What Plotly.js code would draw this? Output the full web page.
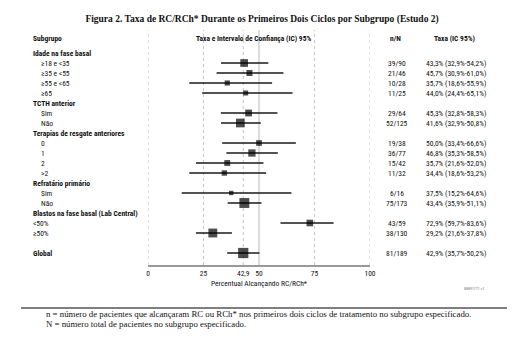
<!DOCTYPE html>
<html>
<head>
<meta charset="utf-8">
<script src="https://cdn.plot.ly/plotly-3.0.1.min.js"></script>
<style>html,body{margin:0;padding:0;background:#fff;}#chart{width:522px;height:341px;}</style>
</head>
<body>
<div id="chart"></div>
<script>
// ---- data ----
const rowLabels = ["Idade na fase basal","≥18 e <35","≥35 e <55","≥55 e <65","≥65",
  "TCTH anterior","Sim","Não",
  "Terapias de resgate anteriores","0","1","2",">2",
  "Refratário primário","Sim","Não",
  "Blastos na fase basal (Lab Central)","<50%","≥50%","","Global"];
const rate = [null,43.3,45.7,35.7,44.0, null,45.3,41.6, null,50.0,46.8,35.7,34.4, null,37.5,43.4, null,72.9,29.2, null,42.9];
const ciLow = [null,32.9,30.9,18.6,24.4, null,32.8,32.9, null,33.4,35.3,21.6,18.6, null,15.2,35.9, null,59.7,21.6, null,35.7];
const ciHigh = [null,54.2,61.0,55.9,65.1, null,58.3,50.8, null,66.6,58.5,52.0,53.2, null,64.6,51.1, null,83.6,37.8, null,50.2];
const nResp = [null,39,21,10,11, null,29,52, null,19,36,15,11, null,6,75, null,43,38, null,81];
const nTot = [null,90,46,28,25, null,64,125, null,38,77,42,32, null,16,173, null,59,130, null,189];
const tickVals = [0,25,42.9,50,75,100];
const tickText = ["0","25","42,9","50","75","100"];

// ---- geometry helpers (pixels -> paper) ----
const W = 522, H = 341, L = 148, R = 370, T = 30, B = 265;
const px = p => (p - L) / (R - L);
const py = p => (B - p) / (B - T);
const narrow = '"Roboto Condensed", "DejaVu Sans Condensed", "Arial Narrow", sans-serif';
const serif = '"Liberation Serif", "Times New Roman", serif';
const fmt = v => v.toFixed(1).replace('.', ',');
const FS = 7.5;

const idx = [], xs = [], ep = [], em = [], sizes = [];
rate.forEach((r, i) => {
  if (r === null) return;
  idx.push(i); xs.push(r);
  ep.push(ciHigh[i] - r); em.push(r - ciLow[i]);
  sizes.push(2 + Math.sqrt(nTot[i]) * 0.6);
});

const trace = {
  type: 'scatter', mode: 'markers', x: xs, y: idx,
  marker: {symbol: 'square', color: '#000', size: sizes, line: {width: 0}},
  error_x: {type: 'data', symmetric: false, array: ep, arrayminus: em, width: 0, thickness: 1.3, color: '#1a1a1a'},
  hoverinfo: 'skip', showlegend: false, cliponaxis: false
};

const ann = [];
const txt = (text, x, y, opts) => Object.assign({text, x, y, xref: 'paper', yref: 'y', showarrow: false,
  xanchor: 'left', yanchor: 'middle', font: {family: narrow, size: FS, color: '#111'}}, opts || {});

// headers
const hy = py(38);
ann.push(txt('<b>Subgrupo</b>', px(31), hy, {yref: 'paper'}));
ann.push(txt('<b>Taxa e Intervalo de Confiança (IC) 95%</b>', px(253), hy, {yref: 'paper', xanchor: 'center'}));
ann.push(txt('<b>n/N</b>', px(395), hy, {yref: 'paper', xanchor: 'center'}));
ann.push(txt('<b>Taxa (IC 95%)</b>', px(454), hy, {yref: 'paper', xanchor: 'center'}));

rowLabels.forEach((lab, i) => {
  if (!lab) return;
  const header = rate[i] === null || lab === 'Global';
  const noIndent = header || i === 17 || i === 18;
  ann.push(txt(header ? '<b>' + lab + '</b>' : lab, px(noIndent ? 31 : 39), i));
  if (rate[i] !== null) {
    ann.push(txt(nResp[i] + '/' + nTot[i], px(397), i, {xanchor: 'center'}));
    ann.push(txt(fmt(rate[i]) + '% (' + fmt(ciLow[i]) + '%-' + fmt(ciHigh[i]) + '%)', px(424), i));
  }
});

// axis title
ann.push(txt('Percentual Alcançando RC/RCh*', 0.5, py(283), {yref: 'paper', xanchor: 'center'}));
// code
ann.push(txt('88891771 v1', px(462), py(288), {yref: 'paper', font: {family: narrow, size: 4, color: '#777'}}));
// footnotes
const fnFont = {family: serif, size: 8.8, color: '#111'};
ann.push(txt('n = número de pacientes que alcançaram RC ou RCh* nos primeiros dois ciclos de tratamento no subgrupo especificado.', px(44), py(313.5), {yref: 'paper', font: fnFont}));
ann.push(txt('N = número total de pacientes no subgrupo especificado.', px(44), py(324), {yref: 'paper', font: fnFont}));

const shapes = [];
tickVals.forEach(v => {
  const solid = v === 50;
  shapes.push({type: 'line', xref: 'x', yref: 'paper', x0: v, x1: v, y0: 0, y1: 1, layer: 'below',
    line: {color: solid ? '#cfcfcf' : '#c4c4c4', width: solid ? 1.5 : 1, dash: solid ? 'solid' : 'dot'}});
});
shapes.push({type: 'line', xref: 'paper', yref: 'paper', x0: px(21), x1: px(507), y0: py(308), y1: py(308),
  line: {color: '#000', width: 1}});

const layout = {
  width: W, height: H,
  margin: {l: L, r: W - R, t: T, b: H - B, pad: 0},
  paper_bgcolor: '#fff', plot_bgcolor: '#fff',
  title: {text: '<b>Figura 2. Taxa de RC/RCh* Durante os Primeiros Dois Ciclos por Subgrupo (Estudo 2)</b>',
    font: {family: serif, size: 9.5, color: '#111'}, x: 0.502, xanchor: 'center', y: 1 - 19 / H, yanchor: 'middle', xref: 'container', yref: 'container'},
  xaxis: {range: [0, 100], tickvals: tickVals, ticktext: tickText, showgrid: false, zeroline: false,
    showline: true, linecolor: '#999', linewidth: 1.5, ticks: '', ticklen: 0,
    tickfont: {family: narrow, size: FS, color: '#111'}, fixedrange: true},
  yaxis: {range: [21.2, -2.3], visible: false, showgrid: false, zeroline: false, fixedrange: true},
  annotations: ann, shapes: shapes, showlegend: false
};

Plotly.newPlot('chart', [trace], layout, {displayModeBar: false, staticPlot: true});
</script>
</body>
</html>
